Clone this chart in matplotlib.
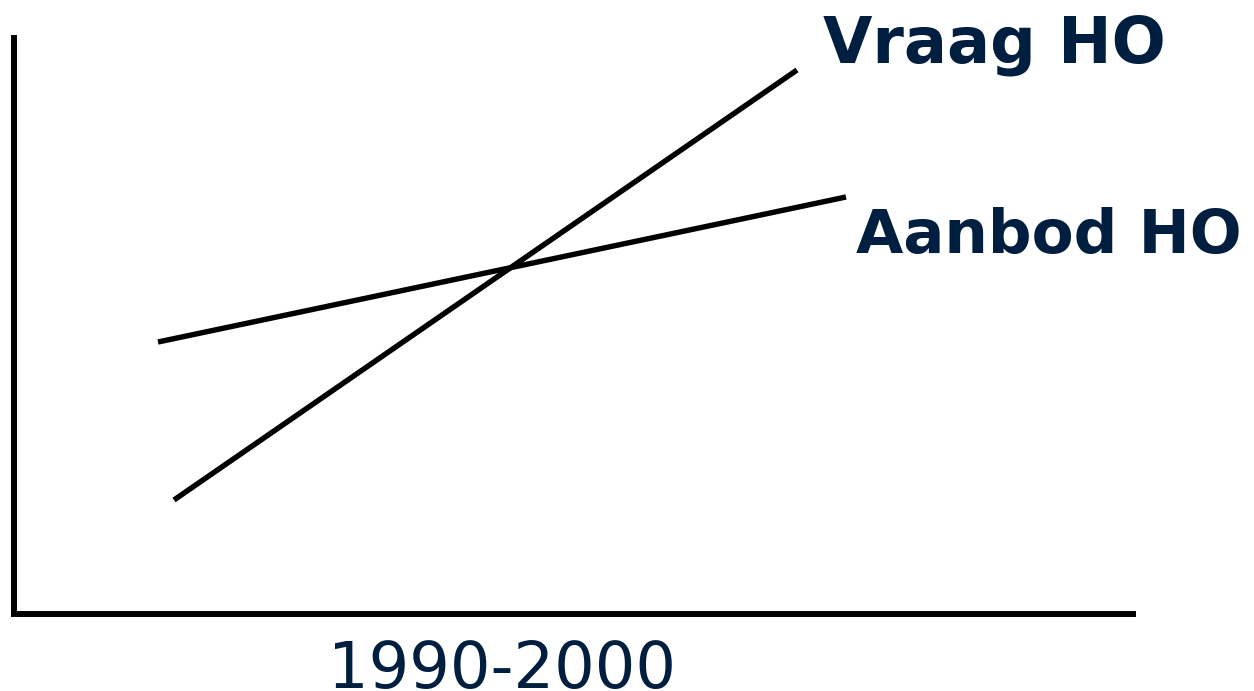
import matplotlib
matplotlib.use('Agg')
import matplotlib.pyplot as plt

# schematic: demand vs supply of higher education (HO), 1990-2000
vraag_x = [160, 783]
vraag_y = [114, 544]
aanbod_x = [144, 832]
aanbod_y = [272, 417]

navy = '#001e3f'
W, H = 1254, 691

fig = plt.figure(figsize=(W / 100, H / 100), dpi=100)
ax = fig.add_axes([14 / W, (H - 614) / H, (1133 - 14) / W, (614 - 38) / H])
ax.set_xlim(0, 1119)
ax.set_ylim(0, 576)

ax.plot(vraag_x, vraag_y, color='black', lw=3.9, solid_capstyle='butt')
ax.plot(aanbod_x, aanbod_y, color='black', lw=3.9, solid_capstyle='butt')

for side in ['top', 'right']:
    ax.spines[side].set_visible(False)
for side in ['left', 'bottom']:
    ax.spines[side].set_linewidth(4.3)
    ax.spines[side].set_color('black')
ax.set_xticks([])
ax.set_yticks([])

fig.text(823 / W, (H - 62) / H, 'Vraag HO', color=navy, fontsize=46,
         fontweight='bold', ha='left', va='baseline')
fig.text(856 / W, (H - 253) / H, 'Aanbod HO', color=navy, fontsize=44,
         fontweight='bold', ha='left', va='baseline')
fig.text(328 / W, (H - 688) / H, '1990-2000', color=navy, fontsize=46,
         ha='left', va='baseline')

fig.savefig('out.png', dpi=100)
